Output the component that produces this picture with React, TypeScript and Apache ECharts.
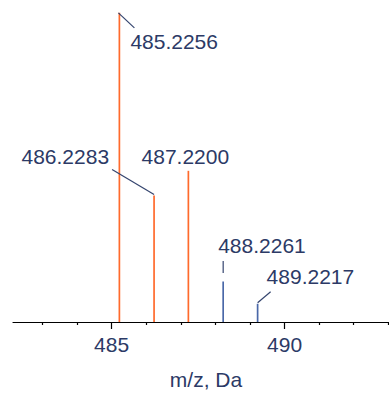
import React, { useEffect, useRef } from "react";
import * as echarts from "echarts";

// ---- data ----
const MATCHED_MZ = [485.2256, 486.2283, 487.22];
const MATCHED_INTENSITY = [100, 40.9, 48.9];
const OTHER_MZ = [488.2261, 489.2217];
const OTHER_INTENSITY = [13.1, 5.9];
const MAJOR_TICKS = [485, 490];
const MINOR_TICKS = [483, 484, 486, 487, 488, 489, 491, 492, 493];
const X_MIN = 482.15;
const X_MAX = 493.02;
const Y_MAX = 104.15;
const AXIS_NAME = "m/z, Da";

// ---- label placement (pixels relative to peak top) ----
type Layout = { dx: number; dy: number; align: string; leader: number[][] | null };
const MATCHED_LAYOUT: Layout[] = [
  { dx: 11, dy: 29, align: "left", leader: [[-1, 0], [15, 15]] },
  { dx: -45, dy: -39, align: "right", leader: [[0, -1], [-42, -26]] },
  { dx: -3, dy: -14, align: "center", leader: null },
];
const OTHER_LAYOUT: Layout[] = [
  { dx: -5, dy: -35.5, align: "left", leader: [[0, -20.5], [0, -8.5]] },
  { dx: 9, dy: -27, align: "left", leader: [[0, -1], [13, -12]] },
];

const ORANGE = "#FF6A2C";
const BLUE = "#4A68A8";
const TEXT = "#2C3A66";
const LEADER = "#34446E";
const FONT = '21px "Liberation Sans", Arial, sans-serif';

function makeRender(color: string, layouts: Layout[]) {
  return (params: any, api: any) => {
    const x = api.value(0);
    const y = api.value(1);
    const top = api.coord([x, y]);
    const base = api.coord([x, 0]);
    const lay = layouts[params.dataIndex];
    const children: any[] = [
      {
        type: "line",
        shape: { x1: top[0], y1: top[1], x2: base[0], y2: base[1] },
        style: { stroke: color, lineWidth: 1.7 },
      },
      {
        type: "text",
        style: {
          text: x.toFixed(4),
          x: top[0] + lay.dx,
          y: top[1] + lay.dy,
          fill: TEXT,
          font: FONT,
          align: lay.align,
          verticalAlign: "middle",
        },
      },
    ];
    if (lay.leader) {
      children.push({
        type: "polyline",
        shape: { points: lay.leader.map((p) => [top[0] + p[0], top[1] + p[1]]) },
        style: { stroke: LEADER, lineWidth: 1.2, fill: null },
      });
    }
    return { type: "group", children };
  };
}

export default function App() {
  const ref = useRef<HTMLDivElement>(null);
  useEffect(() => {
    if (!ref.current) return;
    const chart = echarts.init(ref.current, null, { renderer: "svg" });
    chart.setOption({
      animation: false,
      backgroundColor: "#ffffff",
      grid: { left: 13, right: 0, top: 0, bottom: 68.5 },
      xAxis: [
        {
          type: "value",
          position: "bottom",
          min: X_MIN,
          max: X_MAX,
          name: AXIS_NAME,
          nameLocation: "middle",
          nameGap: 47,
          nameTextStyle: {
            color: TEXT,
            fontSize: 21,
            fontFamily: '"Liberation Sans", Arial, sans-serif',
            padding: [0, 0, 0, 10],
          },
          axisLine: { show: true, lineStyle: { color: "#000", width: 1.2 } },
          axisTick: { show: true, customValues: MAJOR_TICKS, length: 7, lineStyle: { color: "#000", width: 1.2 } },
          axisLabel: {
            show: true,
            customValues: MAJOR_TICKS,
            margin: 12,
            color: TEXT,
            fontSize: 21,
            fontFamily: '"Liberation Sans", Arial, sans-serif',
          },
          splitLine: { show: false },
        },
        {
          type: "value",
          position: "bottom",
          offset: 0,
          min: X_MIN,
          max: X_MAX,
          axisLine: { show: false },
          axisTick: { show: true, customValues: MINOR_TICKS, length: 3, lineStyle: { color: "#000", width: 1.2 } },
          axisLabel: { show: false },
          splitLine: { show: false },
        },
      ],
      yAxis: { type: "value", min: 0, max: Y_MAX, show: false, splitLine: { show: false } },
      series: [
        {
          name: "matched",
          type: "custom",
          xAxisIndex: 0,
          renderItem: makeRender(ORANGE, MATCHED_LAYOUT),
          data: MATCHED_MZ.map((m, i) => [m, MATCHED_INTENSITY[i]]),
        },
        {
          name: "other",
          type: "custom",
          xAxisIndex: 0,
          renderItem: makeRender(BLUE, OTHER_LAYOUT),
          data: OTHER_MZ.map((m, i) => [m, OTHER_INTENSITY[i]]),
        },
      ],
    });
    return () => chart.dispose();
  }, []);
  return (
    <div
      ref={ref}
      style={{ position: "fixed", left: 0, top: 0, width: 389, height: 395, background: "#fff" }}
    />
  );
}
